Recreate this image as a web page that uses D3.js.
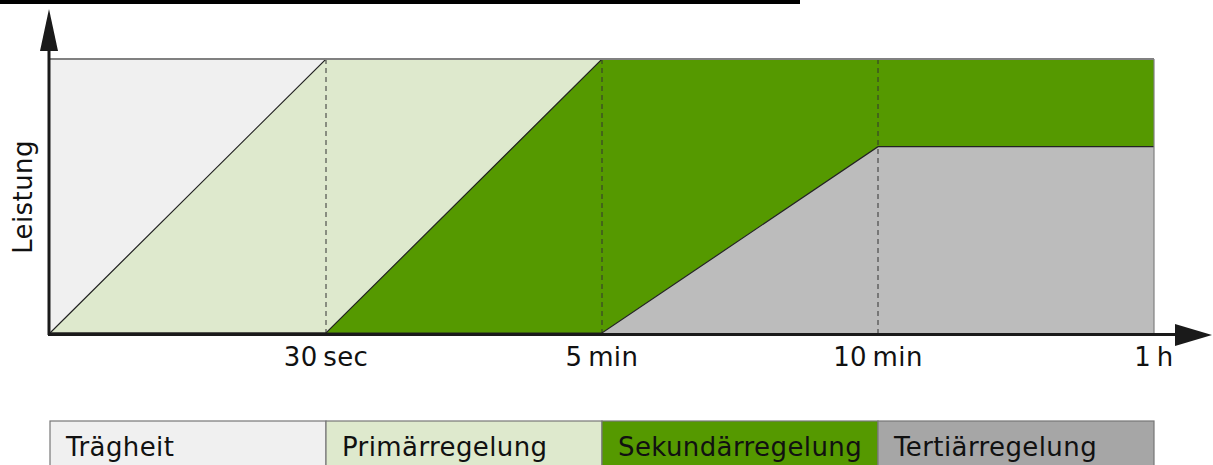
<!DOCTYPE html>
<html>
<head>
<meta charset="utf-8">
<script src="https://cdn.jsdelivr.net/npm/d3@7"></script>
<style>
  body { margin: 0; background: #fff; }
  text { font-family: "DejaVu Sans", Verdana, sans-serif; fill: #111; }
</style>
</head>
<body>
<svg id="chart" width="1213" height="465"></svg>
<script>
// phases of frequency control
var categories = ["Trägheit", "Primärregelung", "Sekundärregelung", "Tertiärregelung"];
var plotColors = ["#f0f0f0", "#dee9cd", "#559900", "#bcbcbc"];
var legendColors = ["#f0f0f0", "#dee9cd", "#559900", "#a6a6a6"];

// time steps (index on x) and their labels
var timeSteps = [0, 1, 2, 3, 4];
var tickLabels = ["", "30\u2009sec", "5\u2009min", "10\u2009min", "1\u2009h"];

// boundary lines (share of power, 0..1) at each time step
var primaryLine   = [0, 1, 1, 1, 1];
var secondaryLine = [0, 0, 1, 1, 1];
var tertiaryLine  = [0, 0, 0, 0.68, 0.68];
var topLine       = [1, 1, 1, 1, 1];
var zeroLine      = [0, 0, 0, 0, 0];

var svg = d3.select("#chart");

var x = d3.scaleLinear().domain([0, 4]).range([50, 1154]);
var y = d3.scaleLinear().domain([0, 1]).range([333, 59]);

// cut-off title underline
svg.append("rect").attr("x", 0).attr("y", 0).attr("width", 800).attr("height", 4).attr("fill", "#000");

// stacked regions: [upper, lower]
var bands = [
  [topLine, primaryLine],
  [primaryLine, secondaryLine],
  [secondaryLine, tertiaryLine],
  [tertiaryLine, zeroLine]
];

var area = d3.area()
    .x(function(d) { return x(d.t); })
    .y0(function(d) { return y(d.lo); })
    .y1(function(d) { return y(d.hi); });

svg.selectAll("path.band")
  .data(bands)
  .enter().append("path")
    .attr("class", "band")
    .attr("fill", function(d, i) { return plotColors[i]; })
    .attr("d", function(d) {
      return area(timeSteps.map(function(t, j) { return {t: t, hi: d[0][j], lo: d[1][j]}; }));
    });

// dashed guides at each step
svg.selectAll("line.guide")
  .data(timeSteps.slice(1, 4))
  .enter().append("line")
    .attr("class", "guide")
    .attr("x1", function(d) { return x(d); })
    .attr("x2", function(d) { return x(d); })
    .attr("y1", y(1)).attr("y2", y(0))
    .attr("stroke", "#333")
    .attr("stroke-width", 1)
    .attr("stroke-dasharray", "5,4");

// boundary lines
var line = d3.line()
    .x(function(d) { return x(d.t); })
    .y(function(d) { return y(d.v); });

[primaryLine, secondaryLine, tertiaryLine].forEach(function(arr) {
  var pts = timeSteps.map(function(t, j) { return {t: t, v: arr[j]}; });
  svg.append("path")
    .attr("d", line(pts))
    .attr("fill", "none")
    .attr("stroke", "#222")
    .attr("stroke-width", 1.2);
});

// frame top and right
svg.append("line")
  .attr("x1", x(0)).attr("x2", x(4)).attr("y1", y(1)).attr("y2", y(1))
  .attr("stroke", "#808080").attr("stroke-width", 2);
svg.append("line")
  .attr("x1", x(4)).attr("x2", x(4)).attr("y1", y(1)).attr("y2", y(0))
  .attr("stroke", "#808080").attr("stroke-width", 1.2);

// axes with arrows
svg.append("line")
  .attr("x1", 49).attr("x2", 49).attr("y1", 335).attr("y2", 45)
  .attr("stroke", "#1a1a1a").attr("stroke-width", 3);
svg.append("path")
  .attr("d", "M49,9 L58,51 L40,51 Z")
  .attr("fill", "#1a1a1a");
svg.append("line")
  .attr("x1", 48).attr("x2", 1180).attr("y1", 334.5).attr("y2", 334.5)
  .attr("stroke", "#1a1a1a").attr("stroke-width", 3);
svg.append("path")
  .attr("d", "M1212,335 L1175,324 L1175,346 Z")
  .attr("fill", "#1a1a1a");

// x tick labels
svg.selectAll("text.tick")
  .data(timeSteps.slice(1))
  .enter().append("text")
    .attr("class", "tick")
    .attr("x", function(d) { return x(d); })
    .attr("y", 366)
    .attr("text-anchor", "middle")
    .attr("font-size", 26)
    .attr("letter-spacing", 0.4)
    .text(function(d) { return tickLabels[d]; });

// y label
svg.append("text")
  .attr("transform", "translate(32,197) rotate(-90)")
  .attr("text-anchor", "middle")
  .attr("font-size", 26)
  .attr("letter-spacing", 0.4)
  .text("Leistung");

// legend row
var legend = svg.selectAll("g.legend")
  .data(categories)
  .enter().append("g")
    .attr("class", "legend");

legend.append("rect")
  .attr("x", function(d, i) { return x(i); })
  .attr("y", 421)
  .attr("width", x(1) - x(0))
  .attr("height", 60)
  .attr("fill", function(d, i) { return legendColors[i]; })
  .attr("stroke", "#777")
  .attr("stroke-width", 1.2);

legend.append("text")
  .attr("x", function(d, i) { return x(i) + 16; })
  .attr("y", 456)
  .attr("font-size", 26)
  .attr("letter-spacing", 0.4)
  .text(function(d) { return d; });
</script>
</body>
</html>
